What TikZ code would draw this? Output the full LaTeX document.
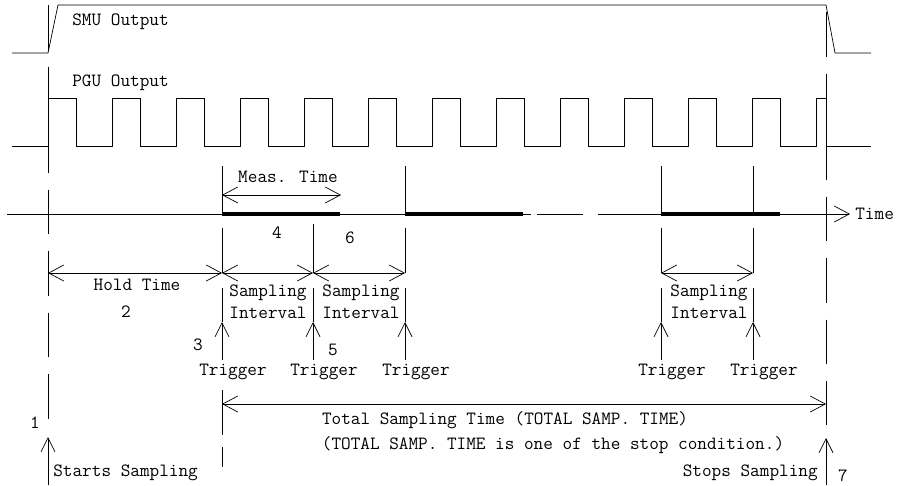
\documentclass[tikz,border=0pt]{standalone}
\usepackage{fontspec}
\usetikzlibrary{arrows.meta}
\tikzset{
    dimline/.style={{Straight Barb[length=15pt,width=16pt]}-{Straight Barb[length=15pt,width=16pt]}},
    oneway/.style={-{Straight Barb[length=15pt,width=16pt]}},
    trigarrow/.style={-{Straight Barb[length=14pt,width=14pt]}},
    longdash/.style={dash pattern=on 44.5pt off 17pt},
    lbl/.style={font=\ttfamily\fontsize{18.7}{21}\selectfont, inner sep=0pt},
    bar/.style={line width=4pt},
}
\begin{document}
\begin{tikzpicture}[x=1pt,y=-1pt,line width=0.7pt]
    \useasboundingbox (0,0) rectangle (912,485);
    % SMU and PGU outputs
    \draw (12,53) -- (48,53) -- (58,5) -- (826,5) -- (835,53) -- (871,53);
    \node[lbl,anchor=west] (smu) at (72,22) {SMU Output};
    \draw (12,146) \foreach \k in {0,...,11} { -- (48+64*\k,146) -- (48+64*\k,98) -- (76+64*\k,98) -- (76+64*\k,146) }
        -- (816,146) -- (816,98) -- (826,98) -- (826,146) -- (871,146);
    \node[lbl,anchor=west] (pgu) at (72,83) {PGU Output};
    % start / stop lines
    \draw[longdash] (48,5) -- (48,422);
    \draw[longdash] (826,12) -- (826,425);
    \coordinate (start) at (48,437);
    \coordinate (stop) at (826,438);
    \draw[trigarrow] (48,485) -- (start);
    \draw[trigarrow] (826,485) -- (stop);
    % time axis
    \draw (7,214) -- (531,214) (537,214) -- (583,214);
    \draw[oneway] (598,214) -- (850,214);
    \node[lbl,anchor=west] (time) at (855,214) {Time};
    \draw[bar] (222,214) -- (340,214);
    \draw[bar] (405,214) -- (523,214);
    \draw[bar] (661,214) -- (780,214);
    \foreach \x in {222,405,661,753} {
        \draw (\x,166) -- (\x,214);
        \draw (\x,228) -- (\x,273);
    }
    \draw (313,224) -- (313,273);
    \coordinate (m0) at (222,195);
    \coordinate (m1) at (341,195);
    \draw[dimline] (m0) -- (m1);
    \node[lbl] (meas) at (288,177) {Meas. Time};
    % intervals
    \coordinate (h0) at (48,273);
    \coordinate (h1) at (222,273);
    \coordinate (h2) at (313,273);
    \coordinate (h3) at (405,273);
    \coordinate (r0) at (661,273);
    \coordinate (r1) at (753,273);
    \draw[dimline] (h0) -- (h1);
    \draw[dimline] (h1) -- (h2);
    \draw[dimline] (h2) -- (h3);
    \draw[dimline] (r0) -- (r1);
    \node[lbl] (hold) at (137,285) {Hold Time};
    \foreach \x/\name in {268/sa, 361/sb, 709/sc} {
        \node[lbl] (\name1) at (\x,293) {Sampling};
        \node[lbl] (\name2) at (\x,313) {Interval};
    }
    % triggers
    \foreach \x in {222,313,405,661,753} {
        \draw (\x,288) -- (\x,322);
        \node[lbl] (trig\x) at (\x+11,372) {Trigger};
        \draw[trigarrow] (\x,360) -- (\x,322);
    }
    % total sampling time
    \draw (222,390) -- (222,435) (222,447) -- (222,467);
    \coordinate (t0) at (222,404);
    \coordinate (t1) at (826,404);
    \draw[dimline] (t0) -- (t1);
    \node[lbl] (total) at (505,420) {Total Sampling Time (TOTAL SAMP. TIME)};
    \node[lbl] (cond) at (553,445) {(TOTAL SAMP. TIME is one of the stop condition.)};
    \node[lbl,anchor=west] (starts) at (53,473) {Starts Sampling};
    \node[lbl,anchor=east] (stops) at (818,473) {Stops Sampling};
    % step numbers
    \foreach \x/\y/\n in {35/423/1, 126/312/2, 198/345/3, 277/233/4, 333/350/5, 350/238/6, 843/476/7} {
        \node[lbl] (n\n) at (\x,\y) {\n};
    }
\end{tikzpicture}
\end{document}
